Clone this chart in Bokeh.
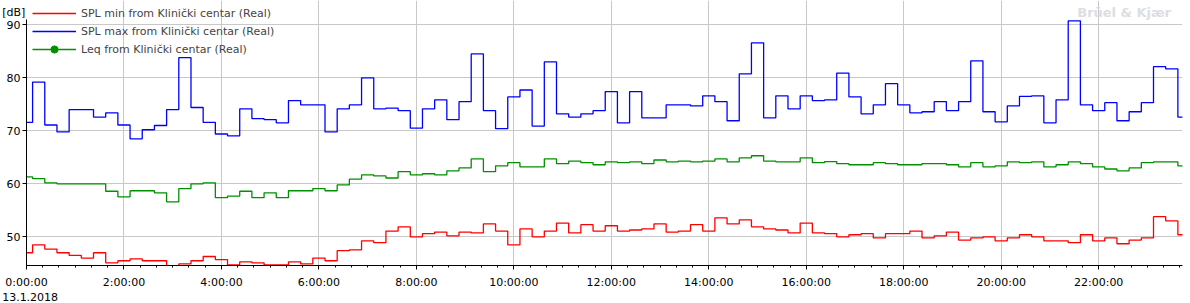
from bokeh.plotting import figure
from bokeh.models import (FixedTicker, Range1d, Legend, LegendItem, Label)
from bokeh.core.properties import value
from bokeh.embed import file_html
from bokeh.resources import INLINE
import numpy as np

# 15-minute samples, 13.1.2018, starting 0:00:00
spl_min = [47.0, 48.5, 47.7, 47.0, 46.5, 46.0, 47.0, 45.1, 45.5, 45.85, 45.5, 45.5, 44.3, 44.9, 45.5, 46.3,
           45.7, 44.7, 45.3, 45.1, 44.7, 44.7, 45.3, 44.9, 46.0, 45.5, 47.4, 47.55, 49.25, 48.9, 51.1, 51.9,
           50.0, 50.6, 50.9, 50.2, 50.9, 50.75, 52.45, 51.1, 48.5, 51.5, 50.0, 51.1, 52.6, 50.75, 52.3, 51.1,
           52.1, 51.1, 51.3, 51.5, 52.45, 50.9, 51.1, 52.3, 51.1, 53.6, 52.45, 53.2, 51.9, 51.5, 51.3, 50.75,
           52.6, 50.75, 50.6, 50.0, 50.4, 50.6, 49.8, 50.6, 50.6, 51.1, 49.8, 50.2, 50.9, 49.4, 49.8, 50.0,
           49.25, 49.8, 50.4, 50.0, 49.25, 49.25, 48.9, 50.4, 49.25, 49.8, 48.7, 49.4, 49.8, 53.8, 53.0, 50.4]
spl_max = [71.6, 79.2, 71.1, 69.8, 74.0, 74.0, 72.6, 73.4, 71.1, 68.5, 70.2, 71.0, 74.0, 83.8, 74.4, 71.6,
           69.4, 69.05, 74.15, 72.3, 72.1, 71.5, 75.7, 74.9, 74.9, 69.8, 74.15, 74.9, 80.0, 74.15, 74.3, 73.8,
           70.5, 74.15, 75.85, 72.1, 75.5, 84.5, 73.8, 70.4, 76.4, 77.7, 70.9, 83.0, 73.2, 72.6, 73.2, 73.8,
           77.4, 71.5, 77.4, 72.45, 72.45, 74.9, 74.9, 74.7, 76.6, 75.5, 71.9, 80.75, 86.6, 72.45, 76.6, 74.15,
           76.6, 75.7, 75.85, 80.9, 76.4, 73.2, 74.9, 78.9, 74.9, 73.4, 73.6, 75.5, 73.8, 75.5, 83.2, 73.6,
           71.7, 74.7, 76.5, 76.6, 71.5, 75.85, 90.75, 74.9, 73.8, 75.3, 71.9, 73.6, 75.3, 82.1, 81.7, 72.6]
leq = [61.3, 61.0, 60.2, 60.0, 60.0, 60.0, 60.0, 58.6, 57.55, 58.7, 58.7, 58.3, 56.6, 59.1, 60.0, 60.2,
       57.4, 57.7, 58.6, 57.4, 58.3, 57.4, 58.7, 58.7, 59.1, 58.7, 59.8, 60.9, 61.7, 61.5, 61.1, 62.3,
       61.7, 61.9, 61.7, 62.45, 63.0, 64.7, 62.3, 63.4, 64.0, 63.2, 63.2, 64.7, 63.8, 64.3, 64.0, 63.6,
       64.15, 64.0, 64.15, 63.8, 64.5, 64.15, 64.3, 64.15, 64.3, 64.7, 64.15, 64.9, 65.3, 64.3, 64.15, 64.15,
       64.9, 64.0, 64.2, 63.8, 63.6, 63.6, 64.0, 63.8, 63.6, 63.6, 63.8, 63.8, 63.6, 63.2, 64.0, 63.2,
       63.4, 64.15, 64.0, 64.15, 63.2, 63.6, 64.15, 63.8, 63.2, 62.8, 62.45, 63.0, 64.0, 64.15, 64.15, 63.4]

hours = np.arange(len(leq)) * 0.25  # sample times in hours
x_ticks = list(range(0, 24, 2))
x_tick_labels = {t: f"{t}:00:00" for t in x_ticks}
y_ticks = [50, 60, 70, 80, 90]
date_label = "13.1.2018"
unit_label = "[dB]"
watermark = "Brüel & Kjær"
names = ["SPL min from Klinički centar (Real)",
         "SPL max from Klinički centar (Real)",
         "Leq from Klinički centar (Real)"]

FONT = "DejaVu Sans"
FS = "11px"

p = figure(width=1190, height=303, output_backend="svg", toolbar_location=None,
           x_range=Range1d(0, 23.72), y_range=Range1d(44.6, 94.58),
           min_border_left=26, min_border_right=8, min_border_top=0, min_border_bottom=38)
p.outline_line_color = None
p.background_fill_color = "white"
p.border_fill_color = "white"

r_min = p.step(hours, spl_min, mode="center", line_color="#ff0000", line_width=1.3)
r_max = p.step(hours, spl_max, mode="center", line_color="#0000ff", line_width=1.3)
r_leq = p.step(hours, leq, mode="center", line_color="#009000", line_width=1.3)
r_dot = p.scatter([-5], [60], size=7, color="#009000")

xa = p.xaxis[0]
xa.ticker = FixedTicker(ticks=x_ticks, minor_ticks=list(np.arange(0, 24, 1 / 3)))
xa.major_label_overrides = x_tick_labels
xa.major_tick_out = 4
xa.major_tick_in = 0
xa.minor_tick_out = 2
xa.minor_tick_in = 0
xa.major_label_standoff = 6
ya = p.yaxis[0]
ya.ticker = FixedTicker(ticks=y_ticks)
ya.bounds = (44.6, 90.95)
ya.major_tick_out = 4
ya.major_tick_in = 0
ya.minor_tick_out = 0
ya.minor_tick_in = 0
ya.major_label_standoff = 2
for ax in (xa, ya):
    ax.axis_line_color = "black"
    ax.major_tick_line_color = "black"
    ax.minor_tick_line_color = "black"
    ax.major_label_text_font = FONT
    ax.major_label_text_font_size = FS
    ax.major_label_text_color = "black"

p.xgrid.ticker = FixedTicker(ticks=x_ticks)
p.ygrid.ticker = FixedTicker(ticks=y_ticks)
p.grid.grid_line_color = "#c8c8c8"
p.grid.grid_line_width = 1

legend = Legend(items=[LegendItem(label=names[0], renderers=[r_min]),
                       LegendItem(label=names[1], renderers=[r_max]),
                       LegendItem(label=names[2], renderers=[r_leq, r_dot])],
                location=(6, 207), padding=0, margin=0, spacing=0,
                glyph_width=44, glyph_height=18, label_height=18, label_standoff=5,
                label_text_font=FONT, label_text_font_size=FS,
                background_fill_alpha=0, border_line_alpha=0)
p.add_layout(legend, "center")

# texts outside the frame, drawn at overlay level so they are not clipped
p.text(x=[-0.5], y=[92.3], text=[unit_label], text_font=value(FONT), text_font_size=value(FS),
       text_baseline="middle", text_color="black", level="overlay")
p.text(x=[-0.5], y=[38.7], text=[date_label], text_font=value(FONT), text_font_size=value(FS),
       text_baseline="middle", text_color="black", level="overlay")

p.add_layout(Label(x=21.56, y=92.3, text=watermark, text_font=FONT, text_font_size="13px",
                   text_font_style="bold", text_baseline="middle", text_color="#dcdee3"))

open("out.html", "w").write(file_html(p, INLINE))
